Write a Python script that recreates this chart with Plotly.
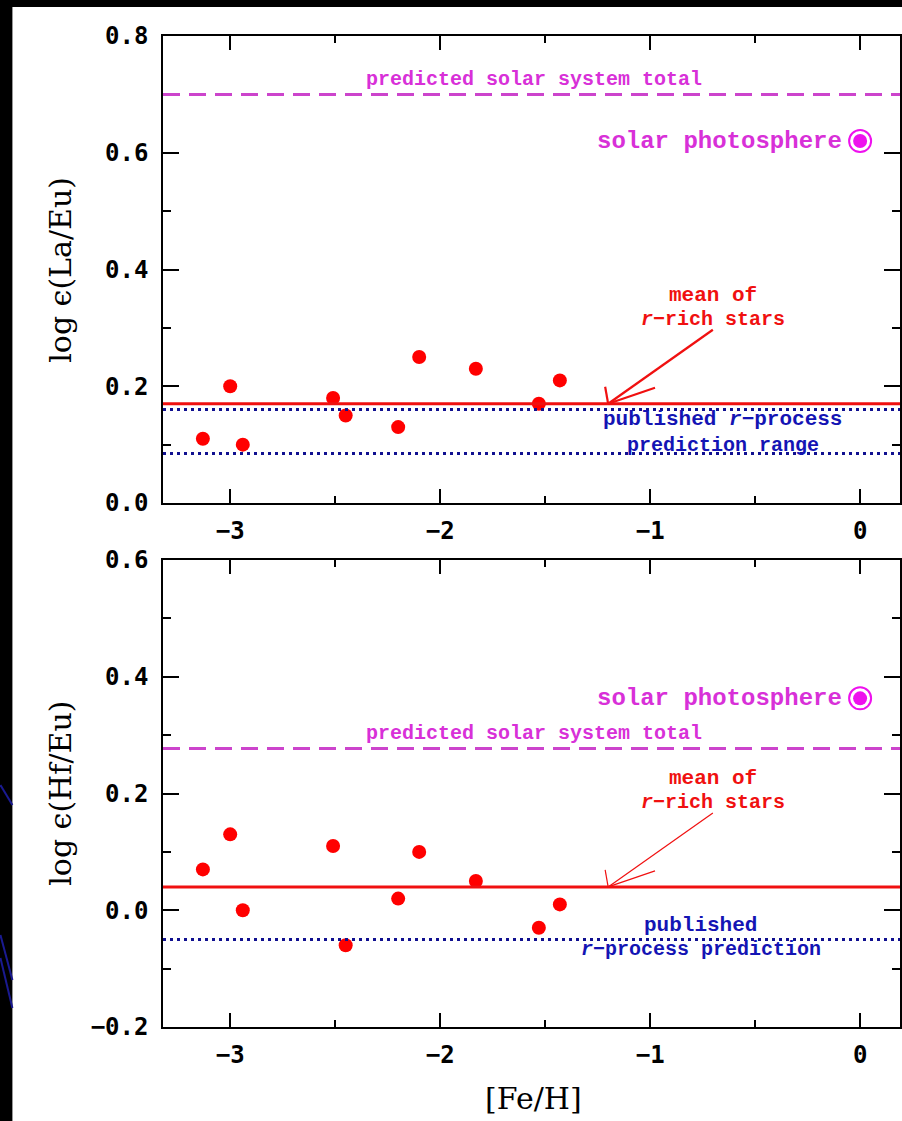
import plotly.graph_objects as go

# ---------------- data ----------------
feh = [-3.13, -3.00, -2.94, -2.51, -2.45, -2.20, -2.10, -1.83, -1.53, -1.43]
la_eu = [0.11, 0.20, 0.10, 0.18, 0.15, 0.13, 0.25, 0.23, 0.17, 0.21]
hf_eu = [0.07, 0.13, 0.00, 0.11, -0.06, 0.02, 0.10, 0.05, -0.03, 0.01]

solar_feh = [0.0]
solar_photosphere_la = [0.62]
solar_photosphere_hf = [0.363]
predicted_total = [0.70, 0.277]      # La/Eu, Hf/Eu
mean_rrich = [0.17, 0.04]            # La/Eu, Hf/Eu
rprocess_la = [0.16, 0.085]          # published prediction range (La/Eu)
rprocess_hf = [-0.05]                # published prediction (Hf/Eu)

x_tickvals = [-3, -2, -1, 0]
y_tickvals_top = [0.0, 0.2, 0.4, 0.6, 0.8]
y_tickvals_bot = [-0.2, 0.0, 0.2, 0.4, 0.6]

# ---------------- styles ----------------
W, H = 902, 1121
ML, MR, MT, MB = 163, 0, 36, 94
PW, PH = W - ML - MR, H - MT - MB
XR = [-3.32, 0.19]
top_dom = [(1027 - 503) / PH, 1.0]
bot_dom = [0.0, (1027 - 560) / PH]

RED = "#f01010"
MAG = "#d830d8"
MAGL = "#cc44cc"
SUN = "#ee11ee"
BLUE = "#1414b4"
BLUEL = "#101090"
MONO = "Liberation Mono"
TICKF = dict(family="DejaVu Sans Mono", size=24, color="black", weight="bold")
SERIF = "DejaVu Serif"

fig = go.Figure()

panels = [
    dict(x="x", y="y", vals=la_eu, sun=solar_photosphere_la, total=predicted_total[0],
         mean=mean_rrich[0], rp=rprocess_la, arrow_w=2.2),
    dict(x="x2", y="y2", vals=hf_eu, sun=solar_photosphere_hf, total=predicted_total[1],
         mean=mean_rrich[1], rp=rprocess_hf, arrow_w=1.2),
]

shapes = []
annotations = []


def px2paper_x(px):
    return (px - ML) / PW


def px2paper_y(py):
    return (MT + PH - py) / PH


# slide background: white page on black frame
shapes.append(dict(type="rect", xref="paper", yref="paper",
                   x0=px2paper_x(12), x1=px2paper_x(W + 5),
                   y0=px2paper_y(H + 5), y1=px2paper_y(7),
                   fillcolor="white", line=dict(width=0), layer="below"))
for (xa, ya, xb, yb) in [(0, 785, 12, 805), (0, 935, 12, 980), (0, 958, 12, 1008)]:
    shapes.append(dict(type="line", xref="paper", yref="paper",
                       x0=px2paper_x(xa), y0=px2paper_y(ya),
                       x1=px2paper_x(xb), y1=px2paper_y(yb),
                       line=dict(color="#1a1a90", width=2), layer="below"))

for p in panels:
    xr, yr = p["x"], p["y"]
    # stars
    fig.add_trace(go.Scatter(x=feh, y=p["vals"], mode="markers", xaxis=xr, yaxis=yr,
                             marker=dict(color="#ff0000", size=14, line=dict(width=0)),
                             showlegend=False))
    # solar photosphere symbol
    fig.add_trace(go.Scatter(x=solar_feh, y=p["sun"], mode="markers", xaxis=xr, yaxis=yr,
                             marker=dict(color="white", size=22, line=dict(color=SUN, width=2)),
                             showlegend=False))
    fig.add_trace(go.Scatter(x=solar_feh, y=p["sun"], mode="markers", xaxis=xr, yaxis=yr,
                             marker=dict(color=SUN, size=14, line=dict(width=0)),
                             showlegend=False))
    dom = xr + " domain"
    # predicted solar system total
    shapes.append(dict(type="line", xref=dom, yref=yr, x0=0, x1=1, y0=p["total"], y1=p["total"],
                       line=dict(color=MAGL, width=3, dash="17px,9px")))
    # mean of r-rich stars
    shapes.append(dict(type="line", xref=dom, yref=yr, x0=0, x1=1, y0=p["mean"], y1=p["mean"],
                       line=dict(color=RED, width=3)))
    # published r-process prediction(s)
    for v in p["rp"]:
        shapes.append(dict(type="line", xref=dom, yref=yr, x0=0, x1=1, y0=v, y1=v,
                           line=dict(color=BLUEL, width=3, dash="3px,4px")))
    # arrow (shaft + two barbs), pixel-offset geometry converted to data units
    yscale = 0.8 / 467.0
    xscale = (XR[1] - XR[0]) / PW
    tipx, tipy = -1.20, p["mean"]
    startx, starty = tipx + 105 * xscale, tipy + 74 * yscale
    for (ex, ey) in [(startx, starty), (tipx - 3 * xscale, tipy + 17 * yscale),
                     (tipx + 47 * xscale, tipy + 16 * yscale)]:
        shapes.append(dict(type="line", xref=xr, yref=yr, x0=tipx, y0=tipy, x1=ex, y1=ey,
                           line=dict(color=RED, width=p["arrow_w"])))
    # texts
    annotations.append(dict(xref=xr, yref=yr, x=-1.555, y=p["total"], yshift=15,
                            text="predicted solar system total", showarrow=False, borderpad=0,
                            font=dict(family=MONO, size=20, color=MAG, weight="bold")))
    annotations.append(dict(xref=xr, yref=yr, x=solar_feh[0], y=p["sun"][0], xshift=-17,
                            xanchor="right", text="solar photosphere", showarrow=False,
                            borderpad=0,
                            font=dict(family=MONO, size=24, color=MAG, weight="bold")))
    annotations.append(dict(xref=xr, yref=yr, x=startx, y=starty, yshift=34,
                            text="mean of", showarrow=False, borderpad=0,
                            font=dict(family=MONO, size=21, color=RED, weight="bold")))
    annotations.append(dict(xref=xr, yref=yr, x=startx, y=starty, yshift=10,
                            text="<i>r</i>−rich stars", showarrow=False, borderpad=0,
                            font=dict(family=MONO, size=20, color=RED, weight="bold")))

# top blue texts
annotations.append(dict(xref="x", yref="y", x=-0.654, y=rprocess_la[0], yshift=-10,
                        text="published <i>r</i>−process", showarrow=False, borderpad=0,
                        font=dict(family=MONO, size=21, color=BLUE, weight="bold")))
annotations.append(dict(xref="x", yref="y", x=-0.654, y=rprocess_la[1], yshift=8,
                        text="prediction range", showarrow=False, borderpad=0,
                        font=dict(family=MONO, size=20, color=BLUE, weight="bold")))
# bottom blue texts
annotations.append(dict(xref="x2", yref="y2", x=-0.758, y=rprocess_hf[0], yshift=14,
                        text="published", showarrow=False, borderpad=0,
                        font=dict(family=MONO, size=21, color=BLUE, weight="bold")))
annotations.append(dict(xref="x2", yref="y2", x=-0.758, y=rprocess_hf[0], yshift=-10,
                        text="<i>r</i>−process prediction", showarrow=False, borderpad=0,
                        font=dict(family=MONO, size=20, color=BLUE, weight="bold")))

# axis titles
annotations.append(dict(xref="paper", yref="paper", x=px2paper_x(60), y=sum(top_dom) / 2,
                        xanchor="center", yanchor="middle",
                        text="log ϵ(La/Eu)", textangle=-90, showarrow=False,
                        font=dict(family=SERIF, size=30, color="black")))
annotations.append(dict(xref="paper", yref="paper", x=px2paper_x(60), y=sum(bot_dom) / 2,
                        xanchor="center", yanchor="middle",
                        text="log ϵ(Hf/Eu)", textangle=-90, showarrow=False,
                        font=dict(family=SERIF, size=30, color="black")))
annotations.append(dict(xref="paper", yref="paper", x=px2paper_x(535), y=px2paper_y(1098),
                        xanchor="center", yanchor="middle",
                        text="[Fe/H]", showarrow=False,
                        font=dict(family=SERIF, size=30, color="black")))

xax = dict(range=XR, tickvals=x_tickvals, ticks="inside", ticklen=14, tickwidth=1.5,
           tickcolor="black", showline=True, linecolor="black", linewidth=1.5, mirror="ticks",
           showgrid=False, zeroline=False, tickfont=TICKF, ticklabelstandoff=5,
           minor=dict(ticks="inside", ticklen=7, dtick=0.5, tick0=0, tickwidth=1.5,
                      tickcolor="black", showgrid=False))


def yax(rng, tv, dom):
    return dict(range=rng, tickvals=tv, ticktext=[f"{v:.1f}".replace("-", "−") for v in tv],
                domain=dom, ticks="inside", ticklen=16, tickwidth=1.5,
                tickcolor="black", showline=True, linecolor="black", linewidth=1.5,
                mirror="ticks", showgrid=False, zeroline=False, tickfont=TICKF,
                ticklabelstandoff=8,
                minor=dict(ticks="inside", ticklen=8, dtick=0.1, tick0=0, tickwidth=1.5,
                           tickcolor="black", showgrid=False))


fig.update_layout(
    width=W, height=H,
    margin=dict(l=ML, r=MR, t=MT, b=MB),
    paper_bgcolor="black", plot_bgcolor="white",
    showlegend=False,
    xaxis=dict(xax, anchor="y"),
    yaxis=dict(yax([0.0, 0.8], y_tickvals_top, top_dom), anchor="x"),
    xaxis2=dict(xax, anchor="y2"),
    yaxis2=dict(yax([-0.2, 0.6], y_tickvals_bot, bot_dom), anchor="x2"),
    shapes=shapes,
    annotations=annotations,
)

fig.write_html("out.html",
               config={"displayModeBar": False},
               post_script="document.body.style.margin='0';"
                           "document.body.style.overflow='hidden';")
